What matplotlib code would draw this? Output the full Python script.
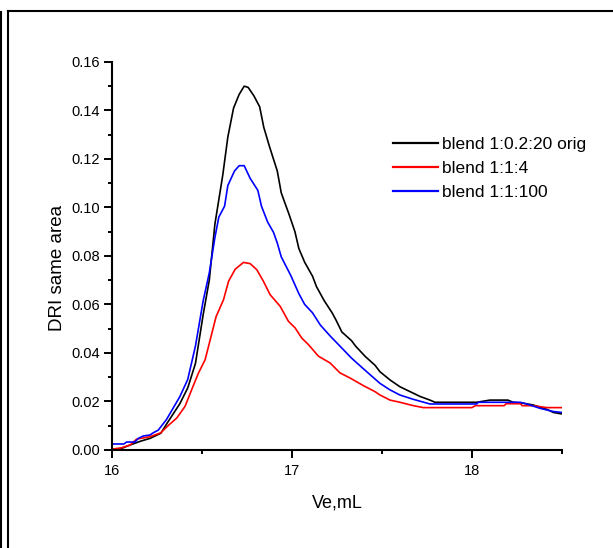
import numpy as np
import matplotlib
matplotlib.use('Agg')
import matplotlib.pyplot as plt
from matplotlib.lines import Line2D
from matplotlib.ticker import MultipleLocator, FormatStrFormatter

plt.rcParams['font.family'] = ['Liberation Sans', 'DejaVu Sans']

ve_orig = [16.0, 16.05, 16.1, 16.16, 16.21, 16.27, 16.31, 16.376, 16.42, 16.463,
           16.506, 16.54, 16.571, 16.615, 16.643, 16.675, 16.706, 16.734, 16.756, 16.788,
           16.82, 16.843, 16.875, 16.918, 16.94, 16.984, 17.016, 17.038, 17.07, 17.114,
           17.136, 17.179, 17.223, 17.244, 17.277, 17.331, 17.353, 17.407, 17.461, 17.489,
           17.545, 17.6, 17.656, 17.712, 17.767, 17.795, 18.027, 18.1, 18.2, 18.23,
           18.287, 18.34, 18.416, 18.453, 18.5]
dri_orig = [0.0002, 0.0005, 0.002, 0.0036, 0.0047, 0.0068, 0.0115, 0.019, 0.0255, 0.0356,
            0.0558, 0.070, 0.093, 0.1134, 0.129, 0.141, 0.1466, 0.150, 0.1495, 0.146,
            0.1415, 0.133, 0.125, 0.115, 0.106, 0.097, 0.090, 0.083, 0.0774, 0.0716,
            0.0673, 0.0615, 0.0565, 0.0536, 0.0486, 0.045, 0.0428, 0.0385, 0.0349, 0.0322,
            0.0288, 0.026, 0.024, 0.022, 0.0205, 0.0196, 0.0196, 0.0205, 0.0205, 0.0196,
            0.0192, 0.0185, 0.0167, 0.0154, 0.0148]

ve_114 = [16.0, 16.05, 16.1, 16.136, 16.21, 16.27, 16.313, 16.359, 16.405, 16.442,
          16.48, 16.517, 16.545, 16.578, 16.619, 16.647, 16.684, 16.73, 16.767, 16.804,
          16.841, 16.878, 16.934, 16.98, 17.017, 17.054, 17.091, 17.147, 17.212, 17.267,
          17.323, 17.396, 17.461, 17.489, 17.545, 17.6, 17.675, 17.73, 18.0, 18.02,
          18.18, 18.19, 18.27, 18.28, 18.34, 18.38, 18.416, 18.5]
dri_114 = [0.0003, 0.0008, 0.002, 0.0044, 0.0054, 0.007, 0.0101, 0.0131, 0.0179, 0.0248,
           0.0317, 0.0372, 0.0454, 0.055, 0.0619, 0.0695, 0.0745, 0.0773, 0.0768, 0.0743,
           0.0695, 0.064, 0.0592, 0.053, 0.0503, 0.0461, 0.0434, 0.0386, 0.0358, 0.0317,
           0.0296, 0.0265, 0.024, 0.0226, 0.0205, 0.0196, 0.0182, 0.0174, 0.0174, 0.0182,
           0.0182, 0.019, 0.019, 0.0182, 0.0182, 0.0178, 0.0174, 0.0174]

ve_11100 = [16.0, 16.065, 16.08, 16.127, 16.145, 16.173, 16.21, 16.228, 16.256, 16.302,
            16.376, 16.42, 16.463, 16.506, 16.54, 16.571, 16.593, 16.625, 16.643, 16.68,
            16.706, 16.734, 16.767, 16.81, 16.83, 16.864, 16.897, 16.918, 16.94, 16.995,
            17.038, 17.07, 17.114, 17.157, 17.21, 17.266, 17.331, 17.397, 17.489, 17.545,
            17.6, 17.675, 17.767, 18.027, 18.036, 18.268, 18.305, 18.379, 18.453, 18.5]
dri_11100 = [0.0024, 0.0024, 0.0032, 0.0032, 0.0047, 0.0057, 0.0061, 0.007, 0.0081, 0.0125,
             0.0219, 0.029, 0.0428, 0.0615, 0.073, 0.0875, 0.096, 0.1005, 0.109, 0.115,
             0.1172, 0.1172, 0.112, 0.107, 0.1005, 0.094, 0.0897, 0.0853, 0.0796, 0.0716,
             0.0644, 0.060, 0.0565, 0.0515, 0.0471, 0.0428, 0.0378, 0.0334, 0.0274, 0.0247,
             0.0226, 0.0208, 0.0189, 0.0189, 0.0196, 0.0196, 0.0189, 0.0171, 0.0158, 0.0154]

labels = ['blend 1:0.2:20 orig', 'blend 1:1:4', 'blend 1:1:100']

fig = plt.figure(figsize=(6.13, 5.48), dpi=100)
ax = fig.add_axes([0.183, 0.1792, 0.7335, 0.7078])

ax.plot(ve_orig, dri_orig, color='black', lw=1.2, label=labels[0])
ax.plot(ve_114, dri_114, color='red', lw=1.2, label=labels[1])
ax.plot(ve_11100, dri_11100, color='blue', lw=1.2, label=labels[2])

ax.set_xlim(16, 18.5)
ax.set_ylim(0, 0.16)
ax.xaxis.set_major_locator(MultipleLocator(1))
ax.xaxis.set_minor_locator(MultipleLocator(0.5))
ax.yaxis.set_major_locator(MultipleLocator(0.02))
ax.yaxis.set_minor_locator(MultipleLocator(0.01))
ax.yaxis.set_major_formatter(FormatStrFormatter('%.2f'))

for s in ['top', 'right']:
    ax.spines[s].set_visible(False)
for s in ['left', 'bottom']:
    ax.spines[s].set_linewidth(1.5)
ax.tick_params(which='major', direction='out', length=5.8, width=1.4, labelsize=10.5, pad=3)
ax.tick_params(axis='x', which='major', pad=4.5)
ax.tick_params(which='minor', direction='out', length=3, width=1.4)

ax.set_xlabel('Ve,mL', fontsize=13, labelpad=12)
ax.set_ylabel('DRI same area', fontsize=13.5)
ax.yaxis.set_label_coords(-0.103, 0.47)

leg = ax.legend(loc='upper left', bbox_to_anchor=(0.6245, 0.806), frameon=False,
                fontsize=12.5, handlelength=2.6, handletextpad=0.25, labelspacing=0.5,
                borderpad=0, borderaxespad=0)
for h in leg.get_lines():
    h.set_linewidth(1.6)

# border lines of the original page frame
fig.add_artist(Line2D([1/613, 1/613], [0, 1 - 12/548], transform=fig.transFigure, color='black', lw=1.5))
fig.add_artist(Line2D([8.3/613, 8.3/613], [0, 1 - 11/548], transform=fig.transFigure, color='black', lw=1.5))
fig.add_artist(Line2D([8.3/613, 1], [1 - 11/548, 1 - 11/548], transform=fig.transFigure, color='black', lw=1.5))

fig.savefig('out.png', dpi=100)
